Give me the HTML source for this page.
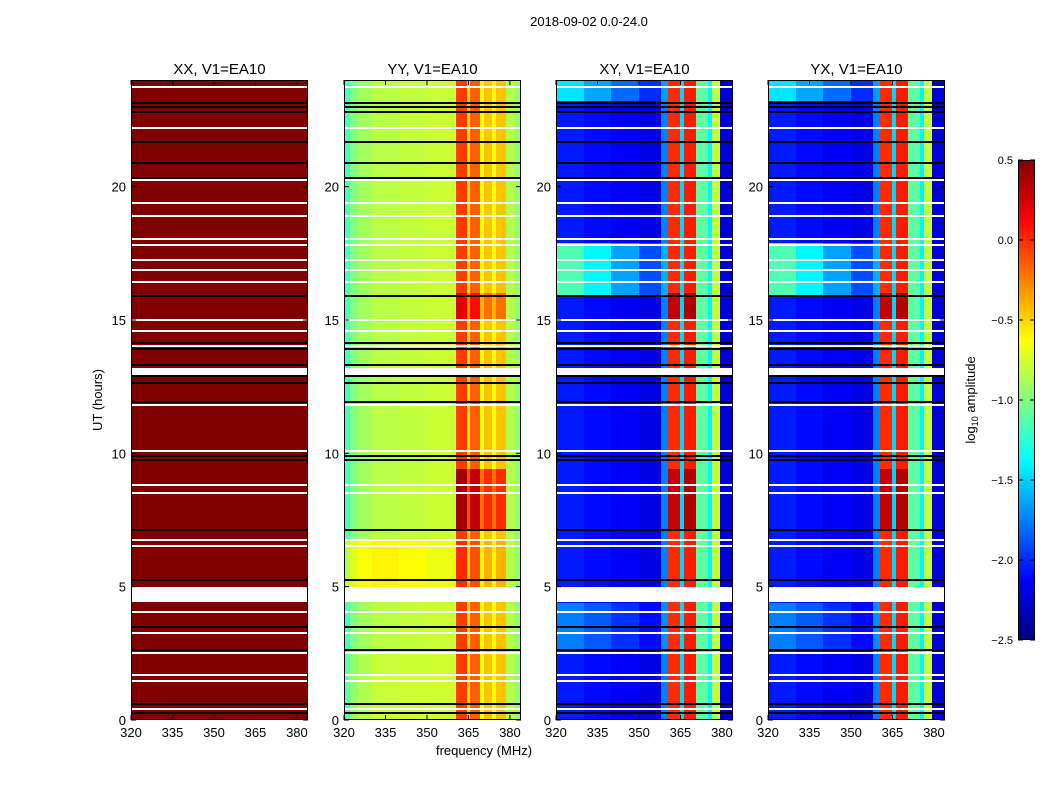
<!DOCTYPE html>
<html><head><meta charset="utf-8">
<style>
body{margin:0;background:#fff;width:1050px;height:800px;overflow:hidden;font-family:"Liberation Sans","DejaVu Sans",sans-serif}
#root{position:relative;width:1050px;height:800px}
canvas{position:absolute;image-rendering:pixelated}
svg{position:absolute;left:0;top:0}
</style></head><body>
<div id="root">
<canvas id="c0" width="177" height="640" style="left:131px;top:80px"></canvas>
<canvas id="c1" width="177" height="640" style="left:344px;top:80px"></canvas>
<canvas id="c2" width="177" height="640" style="left:556px;top:80px"></canvas>
<canvas id="c3" width="177" height="640" style="left:768px;top:80px"></canvas>
<canvas id="cb" width="17" height="480" style="left:1018px;top:160px"></canvas>
<svg id="ov" width="1050" height="800"></svg>
</div>
<script>
// ---- data ----
const panelTitles=["XX, V1=EA10","YY, V1=EA10","XY, V1=EA10","YX, V1=EA10"];
const freqTicks=[320,335,350,365,380];
const timeTicks=[0,5,10,15,20];
const cbTicks=[0.5,0.0,-0.5,-1.0,-1.5,-2.0,-2.5];
// frequency bands [f0,f1,log amplitude]
const bandsXX=[[320,384,0.6]];
const bandsYY=[[320,322,-1.15],[322,325,-1.0],[325,330,-0.9],[330,340,-0.83],[340,350,-0.8],[350,360.4,-0.78],[360.4,364.6,-0.05],[364.6,365.6,-0.55],[365.6,369.2,-0.15],[369.2,370.5,-0.65],[370.5,373.5,-0.45],[373.5,375,-0.65],[375,378.5,-0.45],[378.5,382,-0.85],[382,384,-0.95]];
const bandsXY=[[320,330,-2.05],[330,340,-2.1],[340,350,-2.15],[350,358,-2.2],[358,360.5,-1.75],[360.5,364.8,0.0],[364.8,366.3,-1.5],[366.3,370.6,0.05],[370.6,374.9,-1.1],[374.9,376.4,-1.4],[376.4,379.3,-0.8],[379.3,384,-2.25]];
const bandsYX=[[320,330,-2.05],[330,340,-2.1],[340,350,-2.15],[350,358,-2.2],[358,360.5,-1.75],[360.5,364.8,0.0],[364.8,366.3,-1.5],[366.3,370.6,0.05],[370.6,374.9,-1.1],[374.9,376.4,-1.4],[376.4,379.3,-0.8],[379.3,384,-2.25]];
// time segments [t0,t1,offset-for-background(tapered), offset-for-lines(value>-0.7)]
const segYY=[[5.0,6.7,0.3,0.05],[7.1,9.4,0,0.45],[15.0,16.0,0,0.25],[0,2.6,0.05,0]];
const segXY=[[15.9,17.9,0.9,0],[23.2,24,0.6,0],[7.1,9.4,0,0.3],[15.0,16.0,0,0.3],[2.6,4.4,0.3,0]];
const segYX=[[15.9,17.9,0.9,0],[23.2,24,0.6,0],[7.1,9.4,0,0.3],[15.0,16.0,0,0.3],[2.6,4.4,0.3,0]];
const whiteHours=[23.73,22.2,20.25,19.39,18.9,18.04,17.81,17.25,16.87,16.42,15.0,14.59,14.02,11.81,10.09,8.81,8.51,6.75,6.52,4.05,3.26,2.51,1.69,1.46,0.41];
const whiteBlocks=[[12.9,13.2],[4.45,5.0]];
const blackHours=[23.14,22.99,22.8,21.67,20.89,20.32,15.9,14.14,13.91,13.31,12.9,12.64,11.92,9.9,9.75,7.12,5.25,3.49,2.62,0.6,0.26];

// ---- scales ----
const PX=[131,344,556,768],PW=177,PT=80,PH=640;
const fx=f=>(f-320)/64*PW;
const ty=t=>PH-t/24*PH;
const vmin=-2.5,vmax=0.5;
function jet(v){let x=(v-vmin)/(vmax-vmin);x=Math.max(0,Math.min(1,x));
 const c=t=>Math.max(0,Math.min(1,1.5-Math.abs(4*x-t)));
 return [Math.round(255*c(3)),Math.round(255*c(2)),Math.round(255*c(1))];}
function draw(id,bands,segs){
 const cv=document.getElementById(id),ctx=cv.getContext('2d');
 for(let py=0;py<PH;py++){
  const t=(PH-py-0.5)/PH*24;
  for(const b of bands){
   let v=b[2];
   for(const s of segs){if(t>=s[0]&&t<s[1]){if(b[1]<=360.5)v+=s[2]*Math.max(0,1-(b[0]-320)/45);if(b[2]>-0.7)v+=s[3];}}
   const [r,g,bl]=jet(v);ctx.fillStyle=`rgb(${r},${g},${bl})`;
   const x0=Math.round(fx(b[0])),x1=Math.round(fx(b[1]));ctx.fillRect(x0,py,x1-x0,1);
  }
 }
 ctx.fillStyle='#fff';
 for(const h of whiteHours)ctx.fillRect(0,Math.round(ty(h))-1,PW,2);
 for(const w of whiteBlocks)ctx.fillRect(0,Math.round(ty(w[1])),PW,Math.round(ty(w[0])-ty(w[1])));
 ctx.fillStyle='#000';
 for(const h of blackHours)ctx.fillRect(0,Math.round(ty(h))-1,PW,2);
}
draw('c0',bandsXX,[]);draw('c1',bandsYY,segYY);draw('c2',bandsXY,segXY);draw('c3',bandsYX,segYX);
(function(){const cv=document.getElementById('cb'),ctx=cv.getContext('2d');
 for(let y=0;y<480;y++){const v=vmax-(y+0.5)/480*(vmax-vmin);const [r,g,b]=jet(v);ctx.fillStyle=`rgb(${r},${g},${b})`;ctx.fillRect(0,y,17,1);}})();

// ---- overlay ----
const NS='http://www.w3.org/2000/svg',ov=document.getElementById('ov');
function el(tag,attrs,txt){const e=document.createElementNS(NS,tag);for(const k in attrs)e.setAttribute(k,attrs[k]);if(txt!==undefined)e.textContent=txt;ov.appendChild(e);return e;}
let e=el('text',{x:589,y:26,'font-size':13,'text-anchor':'middle'},'2018-09-02 0.0-24.0');


PX.forEach((x0,i)=>{
 let r=el('rect',{x:x0+0.5,y:PT+0.5,width:PW-1,height:PH-1,fill:'none',stroke:'#000','stroke-width':1});
 
 
 let t=el('text',{x:x0+PW/2,y:74,'font-size':15,'text-anchor':'middle'},panelTitles[i]);
 
 
 freqTicks.forEach(f=>{const x=x0+fx(f);
  el('line',{x1:x,x2:x,y1:PT+PH,y2:PT+PH-5,stroke:'#000'});
  el('line',{x1:x,x2:x,y1:PT,y2:PT+5,stroke:'#000'});
  let l=el('text',{x:x,y:PT+PH+17,'font-size':13,'text-anchor':'middle'},String(f));
  
  });
 timeTicks.forEach(h=>{const y=PT+ty(h);
  el('line',{x1:x0,x2:x0+5,y1:y,y2:y,stroke:'#000'});
  el('line',{x1:x0+PW,x2:x0+PW-5,y1:y,y2:y,stroke:'#000'});
  let l=el('text',{x:x0-5,y:y+5,'font-size':13,'text-anchor':'end'},String(h));
  
  });
});
e=el('text',{x:484,y:755,'font-size':13,'text-anchor':'middle'},'frequency (MHz)');


e=el('text',{x:0,y:0,'font-size':13,'text-anchor':'middle',transform:'translate(102,400) rotate(-90)'},'UT (hours)');


e=el('rect',{x:1018.5,y:160.5,width:16,height:479,fill:'none',stroke:'#000'});


cbTicks.forEach(v=>{const y=160+(vmax-v)/(vmax-vmin)*480;
 el('line',{x1:1018,x2:1023,y1:y,y2:y,stroke:'#000'});
 el('line',{x1:1035,x2:1030,y1:y,y2:y,stroke:'#000'});
 let l=el('text',{x:1013,y:y+4,'font-size':11,'text-anchor':'end'},v.toFixed(1).replace('-','\u2212'));
 
 });
e=el('text',{x:0,y:0,'font-size':13,'text-anchor':'middle',transform:'translate(975,400) rotate(-90)'});
e.innerHTML='log<tspan font-size="9" dy="3">10</tspan><tspan dy="-3"> amplitude</tspan>';


</script>
</body></html>
